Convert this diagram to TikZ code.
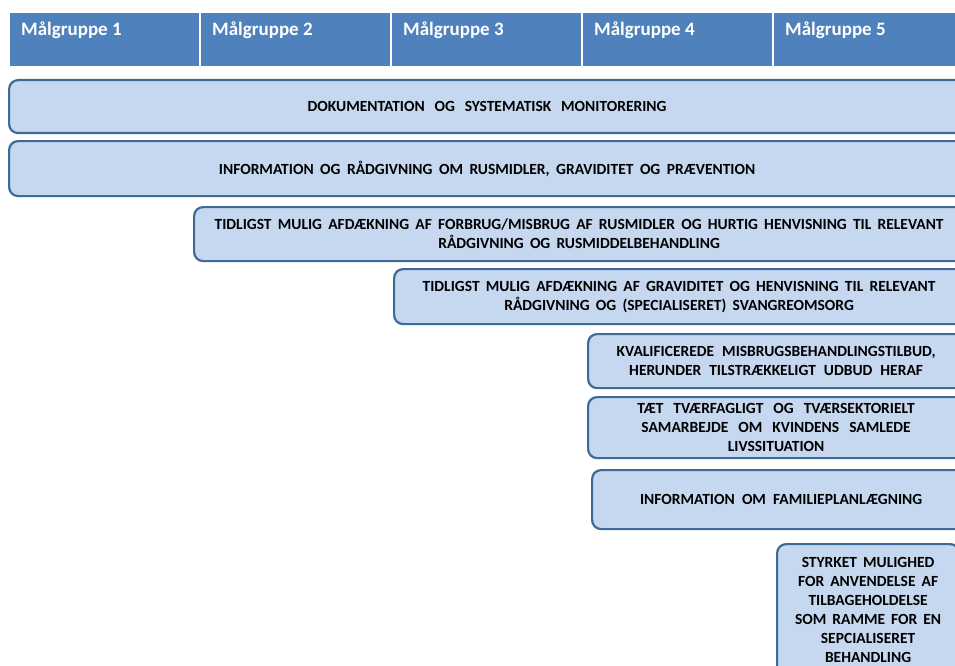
\documentclass[tikz,border=0pt]{standalone}
\usepackage{fontspec}
\setmainfont{Carlito}
\usetikzlibrary{positioning}
\definecolor{hoved}{RGB}{79,129,189}
\definecolor{boksfyld}{RGB}{198,216,239}
\definecolor{bokskant}{RGB}{62,106,152}
\tikzset{
  malgruppe/.style={fill=hoved,draw=white,line width=1.5pt},
  mgtekst/.style={anchor=base west,text=white,inner sep=0pt,font=\fontsize{19}{22}\selectfont\bfseries},
  tiltag/.style={draw=bokskant,fill=boksfyld,line width=2.2pt,rounded corners=9pt,anchor=north west,align=center,inner sep=0pt,font=\fontsize{15.5}{19}\selectfont\bfseries,execute at begin node={\spaceskip=#1\relax}},
  tiltag/.default=6pt
}
\begin{document}
\begin{tikzpicture}[line cap=round,line join=round,x=1pt,y=-1pt]
      \useasboundingbox (0,0) rectangle (955,666);
      \clip (0,0) rectangle (955,666);
      \foreach \i/\x in {1/9,2/200,3/391,4/582,5/773}
      {
        \draw[malgruppe] (\x,12) rectangle (\x+191,67);
        \node[mgtekst] (mg\i) at (\x+12,36) {Målgruppe \i};
      }
      \node[tiltag=9.8pt,minimum width=956pt,minimum height=53pt] (dok) at (8,79) {DOKUMENTATION OG SYSTEMATISK MONITORERING};
      \node[tiltag=6.5pt,minimum width=956pt,minimum height=55pt] (info) at (8,140) {INFORMATION OG RÅDGIVNING OM RUSMIDLER, GRAVIDITET OG PRÆVENTION};
      \node[tiltag=6.2pt,minimum width=770pt,minimum height=54pt] (rusmid) at (193,206) {TIDLIGST MULIG AFDÆKNING AF FORBRUG/MISBRUG AF RUSMIDLER OG HURTIG HENVISNING TIL RELEVANT\\RÅDGIVNING OG RUSMIDDELBEHANDLING};
      \node[tiltag=6.2pt,minimum width=570pt,minimum height=55pt] (grav) at (393,268) {TIDLIGST MULIG AFDÆKNING AF GRAVIDITET OG HENVISNING TIL RELEVANT\\RÅDGIVNING OG (SPECIALISERET) SVANGREOMSORG};
      \node[tiltag=8pt,minimum width=376pt,minimum height=54pt] (kval) at (587,333) {KVALIFICEREDE MISBRUGSBEHANDLINGSTILBUD,\\HERUNDER TILSTRÆKKELIGT UDBUD HERAF};
      \node[tiltag=10pt,minimum width=376pt,minimum height=61pt] (samarb) at (587,396) {TÆT TVÆRFAGLIGT OG TVÆRSEKTORIELT\\SAMARBEJDE OM KVINDENS SAMLEDE\\LIVSSITUATION};
      \node[tiltag=7.2pt,minimum width=378pt,minimum height=59pt] (famplan) at (591,469) {INFORMATION OM FAMILIEPLANLÆGNING};
      \node[tiltag=6pt,minimum width=182pt,minimum height=132pt] (tilbage) at (776,543) {STYRKET MULIGHED\\FOR ANVENDELSE AF\\TILBAGEHOLDELSE\\SOM RAMME FOR EN\\SEPCIALISERET\\BEHANDLING};
    \end{tikzpicture}
\end{document}
